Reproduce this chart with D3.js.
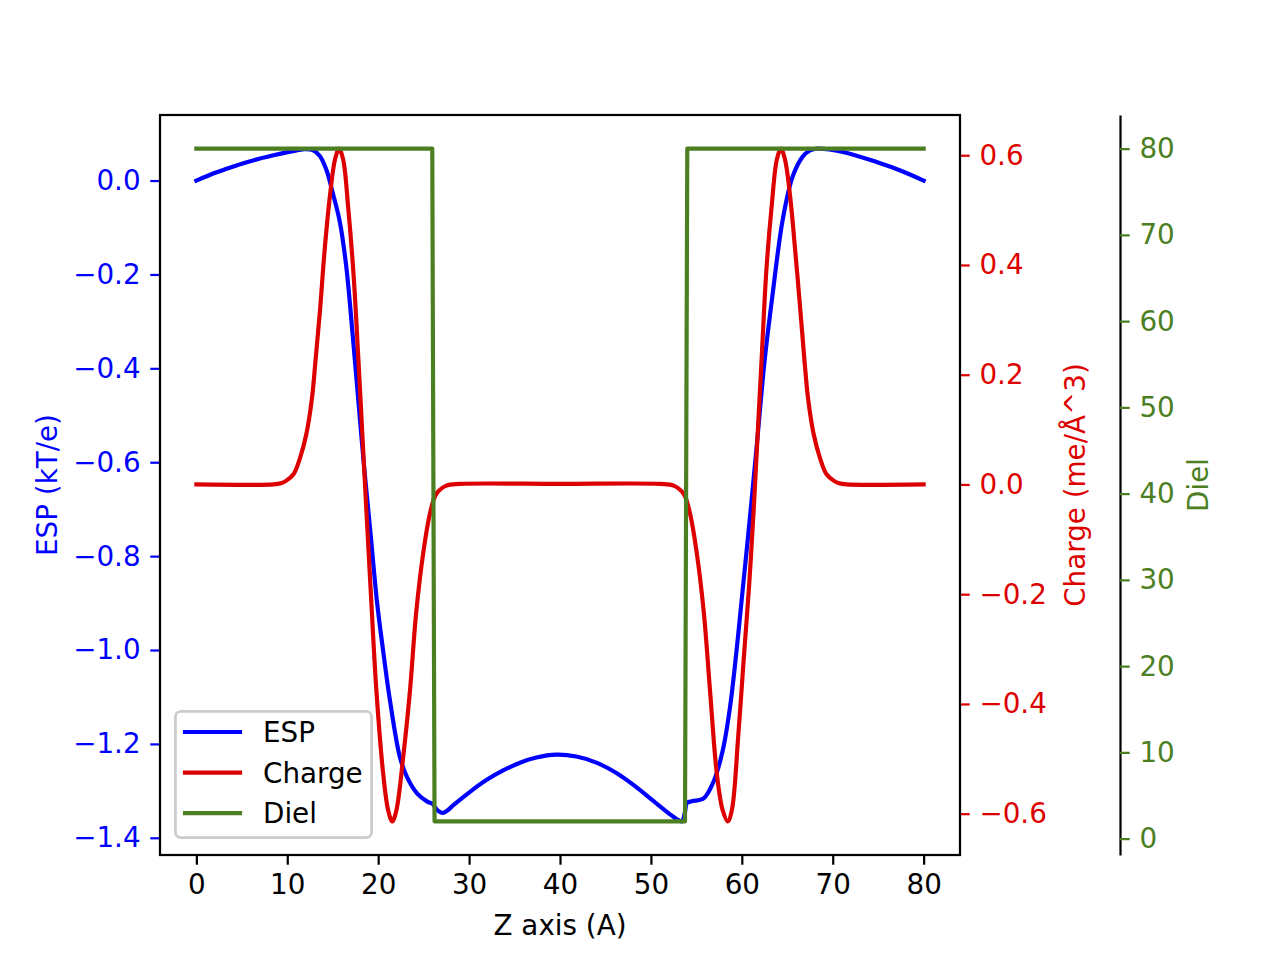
<!DOCTYPE html>
<html>
  <head>
    <meta charset="utf-8">
    <title>ESP / Charge / Diel profile</title>
    <script type="text/javascript" src="https://d3js.org/d3.v7.min.js"></script>
    <style>
      body { margin: 0; background: #ffffff; }
      text { font-family: "DejaVu Sans", sans-serif; }
    </style>
  </head>
  <body>
    <script type="text/javascript">

      // profile values along z
      var espZ = [0, 2.0, 3.3, 5.0, 7.0, 8.5, 9.9, 11.0, 11.9, 12.8, 13.6, 14.3, 15.0, 15.8, 16.5, 17.2,
                  17.8, 18.5, 19.2, 19.85, 20.5, 21.3, 22.4, 23.2, 24.3, 25.4, 26.0, 26.25, 26.7, 27.1,
                  27.6, 28.3, 30.1, 31.9, 33.8, 35.6, 37.4, 39.6, 41.8, 44.0, 46.2, 48.4, 50.3, 52.1,
                  53.0, 53.4, 53.75, 53.95, 54.5, 55.8, 56.9, 57.9, 58.7, 59.4, 60.0, 60.8, 61.6, 62.5,
                  63.4, 64.5, 65.6, 66.7, 67.5, 68.3, 71.1, 74.9, 77.5, 80.0];
      var espV = [0.000, 0.016, 0.025, 0.036, 0.047, 0.054, 0.060, 0.064, 0.067, 0.065, 0.052, 0.023,
                  -0.026, -0.090, -0.185, -0.330, -0.465, -0.620, -0.760, -0.894, -0.995, -1.108,
                  -1.229, -1.272, -1.306, -1.323, -1.328, -1.335, -1.344, -1.347, -1.342, -1.330,
                  -1.302, -1.277, -1.256, -1.240, -1.229, -1.223, -1.227, -1.240, -1.262, -1.292,
                  -1.322, -1.350, -1.362, -1.365, -1.345, -1.326, -1.322, -1.316, -1.280, -1.214,
                  -1.122, -1.005, -0.890, -0.736, -0.574, -0.385, -0.240, -0.083, 0.009, 0.051,
                  0.064, 0.068, 0.061, 0.039, 0.021, 0.000];

      var chargeZ = [0, 8.5, 9.3, 9.9, 10.7, 11.4, 12.1, 12.7, 13.1, 13.6, 14.1, 14.7, 15.25, 15.7,
                     16.15, 16.7, 17.3, 17.8, 18.35, 18.7, 19.2, 19.8, 20.55, 21.1, 21.55, 22.0, 22.75,
                     23.5, 24.2, 25.0, 25.7, 26.4, 27.5, 29.0, 40.0, 51.0, 52.5, 53.6, 54.3, 55.0, 55.8,
                     56.5, 57.25, 57.9, 58.45, 58.9, 59.6, 60.2, 60.8, 61.3, 61.65, 62.2, 62.7, 63.3,
                     63.85, 64.3, 64.75, 65.3, 65.8, 66.4, 66.9, 67.3, 67.9, 68.6, 69.3, 70.1, 70.7,
                     71.5, 80.0];
      var chargeV = [0, 0, 0.002, 0.007, 0.019, 0.048, 0.092, 0.155, 0.224, 0.317, 0.425, 0.527, 0.592,
                     0.612, 0.592, 0.505, 0.380, 0.235, 0.062, -0.047, -0.200, -0.375, -0.527, -0.594,
                     -0.614, -0.594, -0.497, -0.375, -0.230, -0.120, -0.053, -0.017, -0.002, 0.001,
                     0.001, 0.001, -0.002, -0.017, -0.053, -0.120, -0.230, -0.375, -0.527, -0.594,
                     -0.614, -0.594, -0.460, -0.320, -0.185, -0.047, 0.062, 0.235, 0.390, 0.510, 0.592,
                     0.612, 0.592, 0.527, 0.440, 0.325, 0.224, 0.155, 0.092, 0.048, 0.019, 0.007,
                     0.002, 0, 0];

      var dielZ = [0, 25.95, 26.2, 53.75, 54.0, 80];
      var dielV = [80, 80, 2, 2, 80, 80];

      var seriesNames = ["ESP", "Charge", "Diel"];

      var xTicks = [0, 10, 20, 30, 40, 50, 60, 70, 80];
      var espTicks = [0.0, -0.2, -0.4, -0.6, -0.8, -1.0, -1.2, -1.4];
      var espTickLabels = ["0.0", "\u22120.2", "\u22120.4", "\u22120.6", "\u22120.8", "\u22121.0", "\u22121.2", "\u22121.4"];
      var chargeTicks = [0.6, 0.4, 0.2, 0.0, -0.2, -0.4, -0.6];
      var chargeTickLabels = ["0.6", "0.4", "0.2", "0.0", "\u22120.2", "\u22120.4", "\u22120.6"];
      var dielTicks = [0, 10, 20, 30, 40, 50, 60, 70, 80];

      var width = 1280, height = 960;
      var plotLeft = 160, plotRight = 960, plotTop = 115, plotBottom = 855;
      var dielAxisX = 1120;
      var fontSize = 27.78;
      var lineW = 4.17, spineW = 2.22, tickLen = 9.72, tickPad = 9.72;

      var blue = "#0000ff", red = "#dd0000", green = "#4b7f22";

      // matplotlib style 5% margin on each side
      function padded(values) {
        var e = d3.extent(values);
        var p = (e[1] - e[0]) * 0.05;
        return [e[0] - p, e[1] + p];
      }

      var x = d3.scaleLinear().domain(padded(espZ)).range([plotLeft, plotRight]);
      var yEsp = d3.scaleLinear().domain(padded(espV)).range([plotBottom, plotTop]);
      var yCharge = d3.scaleLinear().domain(padded(chargeV)).range([plotBottom, plotTop]);
      var yDiel = d3.scaleLinear().domain(padded(dielV)).range([plotBottom, plotTop]);

      var svg = d3.select("body")
        .append("svg")
        .attr("width", width)
        .attr("height", height);

      svg.append("rect").attr("width", width).attr("height", height).attr("fill", "#ffffff");

      svg.append("clipPath").attr("id", "plotclip")
        .append("rect")
        .attr("x", plotLeft).attr("y", plotTop)
        .attr("width", plotRight - plotLeft).attr("height", plotBottom - plotTop);

      var plot = svg.append("g").attr("clip-path", "url(#plotclip)");

      function drawLine(zs, vs, yScale, color, curve) {
        var line = d3.line()
          .x(function(d) { return x(d[0]); })
          .y(function(d) { return yScale(d[1]); })
          .curve(curve);
        plot.append("path")
          .datum(d3.zip(zs, vs))
          .attr("fill", "none")
          .attr("stroke", color)
          .attr("stroke-width", lineW)
          .attr("stroke-linejoin", "round")
          .attr("stroke-linecap", "square")
          .attr("d", line);
      }

      drawLine(espZ, espV, yEsp, blue, d3.curveCatmullRom.alpha(0.5));
      drawLine(chargeZ, chargeV, yCharge, red, d3.curveCatmullRom.alpha(0.5));
      drawLine(dielZ, dielV, yDiel, green, d3.curveLinear);

      function styleAxis(g, color) {
        g.attr("color", color);
        g.selectAll(".tick line").attr("stroke-width", spineW);
        g.selectAll("text")
          .attr("font-size", fontSize)
          .attr("font-family", "DejaVu Sans, sans-serif");
      }

      // bottom
      var gx = svg.append("g")
        .attr("transform", "translate(0," + plotBottom + ")")
        .call(d3.axisBottom(x).tickValues(xTicks).tickFormat(d3.format("d"))
          .tickSize(tickLen).tickSizeOuter(0).tickPadding(tickPad));
      gx.select(".domain").remove();
      styleAxis(gx, "#000000");

      // left, ESP
      var gl = svg.append("g")
        .attr("transform", "translate(" + plotLeft + ",0)")
        .call(d3.axisLeft(yEsp).tickValues(espTicks)
          .tickFormat(function(d, i) { return espTickLabels[i]; })
          .tickSize(tickLen).tickSizeOuter(0).tickPadding(tickPad));
      gl.select(".domain").remove();
      styleAxis(gl, blue);

      // right, charge
      var gr = svg.append("g")
        .attr("transform", "translate(" + plotRight + ",0)")
        .call(d3.axisRight(yCharge).tickValues(chargeTicks)
          .tickFormat(function(d, i) { return chargeTickLabels[i]; })
          .tickSize(tickLen).tickSizeOuter(0).tickPadding(tickPad));
      gr.select(".domain").remove();
      styleAxis(gr, red);

      // offset axis, diel
      var gd = svg.append("g")
        .attr("transform", "translate(" + dielAxisX + ",0)")
        .call(d3.axisRight(yDiel).tickValues(dielTicks).tickFormat(d3.format("d"))
          .tickSize(tickLen).tickSizeOuter(0).tickPadding(tickPad));
      styleAxis(gd, green);
      gd.select(".domain").attr("stroke", "#000000").attr("stroke-width", spineW);

      // frame
      svg.append("rect")
        .attr("x", plotLeft).attr("y", plotTop)
        .attr("width", plotRight - plotLeft).attr("height", plotBottom - plotTop)
        .attr("fill", "none")
        .attr("stroke", "#000000")
        .attr("stroke-width", spineW);

      // axis titles
      var midY = (plotTop + plotBottom) / 2;
      svg.append("text")
        .attr("x", (plotLeft + plotRight) / 2).attr("y", 935)
        .attr("text-anchor", "middle")
        .attr("font-size", fontSize)
        .attr("fill", "#000000")
        .text("Z axis (A)");

      svg.append("text")
        .attr("transform", "translate(57," + midY + ") rotate(-90)")
        .attr("text-anchor", "middle")
        .attr("font-size", fontSize)
        .attr("fill", blue)
        .text("ESP (kT/e)");

      svg.append("text")
        .attr("transform", "translate(1085," + midY + ") rotate(-90)")
        .attr("text-anchor", "middle")
        .attr("font-size", fontSize)
        .attr("fill", red)
        .text("Charge (me/\u00c5^3)");

      svg.append("text")
        .attr("transform", "translate(1208," + midY + ") rotate(-90)")
        .attr("text-anchor", "middle")
        .attr("font-size", fontSize)
        .attr("fill", green)
        .text("Diel");

      // legend
      var colors = [blue, red, green];
      var legend = svg.append("g").attr("class", "legend");
      legend.append("rect")
        .attr("x", 175.4).attr("y", 711.4)
        .attr("width", 196.2).attr("height", 126.2)
        .attr("rx", 5.5).attr("ry", 5.5)
        .attr("fill", "#ffffff").attr("fill-opacity", 0.8)
        .attr("stroke", "#cccccc").attr("stroke-width", 2.78);

      legend.selectAll("line")
        .data(seriesNames)
        .enter()
        .append("line")
        .attr("x1", 185).attr("x2", 240)
        .attr("y1", function(d, i) { return 732 + i * 40.6; })
        .attr("y2", function(d, i) { return 732 + i * 40.6; })
        .attr("stroke", function(d, i) { return colors[i]; })
        .attr("stroke-width", lineW)
        .attr("stroke-linecap", "square");

      legend.selectAll("text")
        .data(seriesNames)
        .enter()
        .append("text")
        .attr("x", 263)
        .attr("y", function(d, i) { return 742 + i * 40.6; })
        .attr("font-size", fontSize)
        .attr("fill", "#000000")
        .text(function(d) { return d; });

    </script>
  </body>
</html>
